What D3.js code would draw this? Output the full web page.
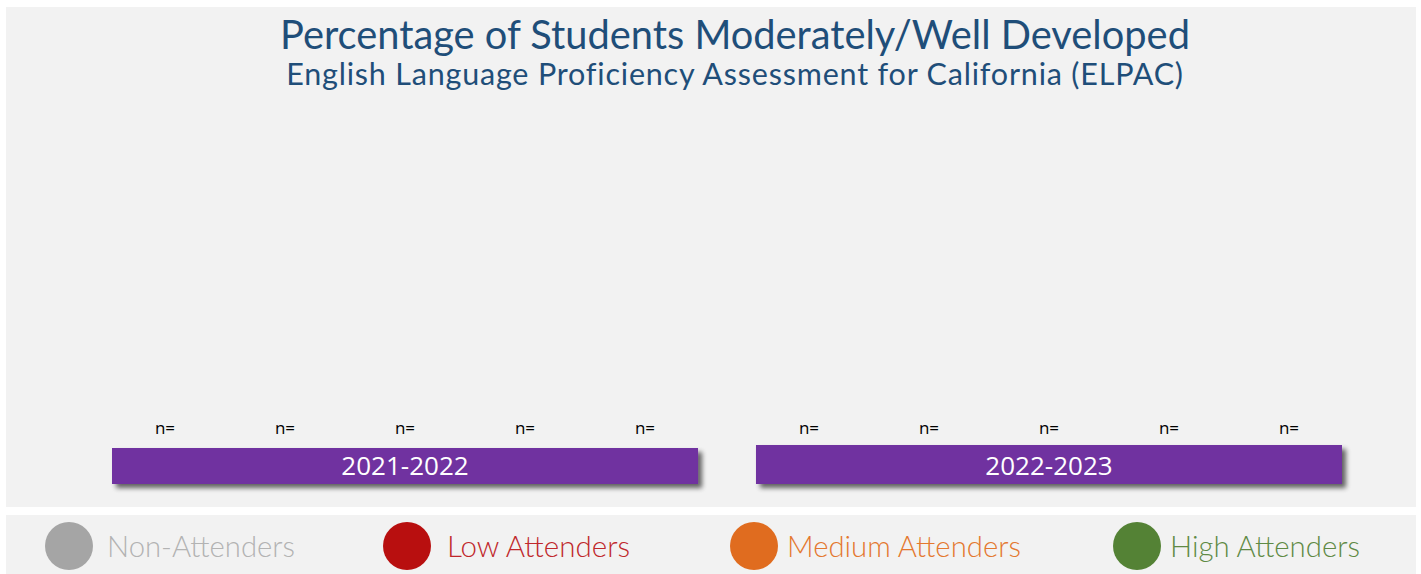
<!DOCTYPE html>
<html>
<head>
<meta charset="utf-8">
<script src="https://cdn.jsdelivr.net/npm/d3@7"></script>
<style>
  html, body { margin: 0; padding: 0; background: #ffffff; }
  svg { display: block; }
</style>
</head>
<body>
<svg id="chart" width="1421" height="574"></svg>
<script>
// ---- data ----
const title = "Percentage of Students Moderately/Well Developed";
const subtitle = "English Language Proficiency Assessment for California (ELPAC)";
const years = ["2021-2022", "2022-2023"];
const groups = ["All Students", "Non-Attenders", "Low Attenders", "Medium Attenders", "High Attenders"];
// no values shown in the reference (empty chart)
const values2122 = [null, null, null, null, null];
const values2223 = [null, null, null, null, null];
const nCounts2122 = ["", "", "", "", ""];
const nCounts2223 = ["", "", "", "", ""];
const legendLabels = ["Non-Attenders", "Low Attenders", "Medium Attenders", "High Attenders"];
const legendColors = ["#a5a5a5", "#b80f0f", "#e06c1f", "#548235"];
const legendTextColors = ["#b3b3b3", "#c0282b", "#e4782f", "#5f8a45"];

const seriesByYear = { "2021-2022": values2122, "2022-2023": values2223 };
const nByYear = { "2021-2022": nCounts2122, "2022-2023": nCounts2223 };

const svg = d3.select("#chart");

// panels
svg.append("rect").attr("x", 6).attr("y", 7).attr("width", 1410).attr("height", 500).attr("fill", "#f2f2f2");
svg.append("rect").attr("x", 6).attr("y", 515).attr("width", 1410).attr("height", 59).attr("fill", "#f2f2f2");

// defs shadow
const defs = svg.append("defs");
const f = defs.append("filter").attr("id", "shadow").attr("x", "-5%").attr("y", "-40%").attr("width", "110%").attr("height", "200%");
f.append("feGaussianBlur").attr("in", "SourceAlpha").attr("stdDeviation", 2.5).attr("result", "blur");
f.append("feOffset").attr("in", "blur").attr("dx", 4).attr("dy", 4).attr("result", "off");
f.append("feComponentTransfer").attr("in", "off").attr("result", "off2")
  .append("feFuncA").attr("type", "linear").attr("slope", 0.6);
const fm = f.append("feMerge");
fm.append("feMergeNode").attr("in", "off2");
fm.append("feMergeNode").attr("in", "SourceGraphic");

function fitText(sel, targetWidth) {
  const node = sel.node();
  const w = node.getComputedTextLength();
  const fs = parseFloat(sel.attr("font-size"));
  if (w > 0) sel.attr("font-size", fs * targetWidth / w);
}

// titles
const t1 = svg.append("text").attr("x", 735).attr("y", 49).attr("text-anchor", "middle")
  .attr("font-family", "Lato, 'Open Sans', sans-serif").attr("font-size", 36)
  .attr("fill", "#1f4e79").text(title);
fitText(t1, 910);
const t2 = svg.append("text").attr("x", 735).attr("y", 85).attr("text-anchor", "middle")
  .attr("font-family", "Lato, 'Open Sans', sans-serif").attr("font-size", 26)
  .attr("letter-spacing", 0.8)
  .attr("fill", "#1f4e79").text(subtitle);
fitText(t2, 907);

// scales
const x = d3.scaleBand().domain(years).range([112, 1342]).paddingInner(0.09).paddingOuter(0);
const y = d3.scaleLinear().domain([0, 100]).range([415, 110]);
const inner = d3.scalePoint().domain(groups).range([-240, 240]);
const groupColors = ["#7f7f7f", "#a5a5a5", "#b80f0f", "#e06c1f", "#548235"];

years.forEach(yr => {
  const g = svg.append("g");
  const cx = x(yr) + x.bandwidth() / 2;
  // bars (none have values)
  const vals = seriesByYear[yr].map((v, i) => ({ v, i })).filter(d => d.v != null);
  g.selectAll("rect.bar").data(vals).enter().append("rect").attr("class", "bar")
    .attr("x", d => cx + inner(groups[d.i]) - 40).attr("width", 80)
    .attr("y", d => y(d.v)).attr("height", d => y(0) - y(d.v))
    .attr("fill", d => groupColors[d.i]);
  // n labels
  g.selectAll("text.n").data(groups).enter().append("text").attr("class", "n")
    .attr("x", d => cx + inner(d))
    .attr("y", 434)
    .attr("text-anchor", "middle")
    .attr("font-family", "'Open Sans', 'Noto Sans', sans-serif")
    .attr("font-size", 17)
    .attr("fill", "#000")
    .text((d, i) => "n=" + nByYear[yr][i]);
  // year band
  const top = yr === years[0] ? 448 : 445;
  g.append("rect").attr("x", x(yr)).attr("y", top).attr("width", x.bandwidth()).attr("height", 484 - top)
    .attr("fill", "#7030a0").attr("filter", "url(#shadow)");
  g.append("text").attr("x", cx).attr("y", 475).attr("text-anchor", "middle")
    .attr("font-family", "'Open Sans', 'Noto Sans', sans-serif").attr("font-size", 26)
    .attr("fill", "#ffffff").text(yr);
});

// legend
const legX = [69, 407, 754, 1137];
const legTX = [107, 447, 787, 1170];
const legTextW = [188, 183, 234, 190];
const lg = svg.append("g");
legendLabels.forEach((lab, i) => {
  lg.append("circle").attr("cx", legX[i]).attr("cy", 546).attr("r", 24).attr("fill", legendColors[i]);
  const t = lg.append("text").attr("x", legTX[i]).attr("y", 557)
    .attr("font-family", "Lato, sans-serif").attr("font-weight", 300).attr("font-size", 28)
    .attr("fill", legendTextColors[i]).text(lab);
  fitText(t, legTextW[i]);
});
</script>
</body>
</html>
